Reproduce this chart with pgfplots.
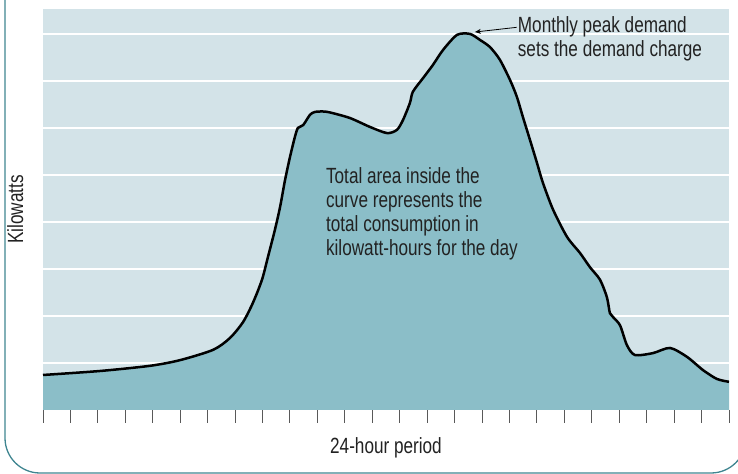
\documentclass[border=0pt]{standalone}
\usepackage{pgfplots}
\pgfplotsset{compat=1.18}
\usetikzlibrary{arrows.meta}
\usepackage{fontspec}
\setmainfont{Liberation Sans}[FakeStretch=0.78]
\definecolor{bgc}{HTML}{D3E3E8}
\definecolor{fillc}{HTML}{8BBEC8}
\definecolor{framec}{HTML}{3F8590}
\definecolor{txt}{HTML}{222222}
\pgfplotstableread{
x y
0 0.745
2.08 0.83
3.90 0.94
4.99 1.06
6.20 1.28
6.81 1.53
7.29 1.87
7.65 2.28
7.98 2.77
8.20 3.26
8.45 3.83
8.64 4.32
8.82 4.89
9.00 5.38
9.18 5.81
9.29 6.00
9.48 6.06
9.73 6.28
9.91 6.34
10.20 6.35
10.46 6.33
11.19 6.21
11.92 6.02
12.54 5.89
12.90 5.96
13.12 6.17
13.37 6.53
13.48 6.77
13.85 7.06
14.21 7.34
14.58 7.66
15.09 7.98
15.56 8.00
15.93 7.87
16.29 7.72
16.65 7.45
17.02 7.02
17.27 6.66
17.49 6.23
17.75 5.74
18.00 5.26
18.22 4.83
18.59 4.26
19.10 3.68
19.57 3.34
19.93 3.04
20.30 2.77
20.55 2.40
20.66 2.06
20.77 1.98
21.03 1.80
21.28 1.38
21.57 1.17
22.23 1.21
22.85 1.32
23.47 1.13
24.05 0.85
24.56 0.66
25 0.60
}\load
\begin{document}
\fontsize{22bp}{24bp}\selectfont
\begin{tikzpicture}
\useasboundingbox (0,0) rectangle (738bp,474bp);
% frame
\begin{scope}
\clip (0,0) rectangle (738bp,474bp);
\draw[framec, line width=1.3bp] (5bp,480bp) -- (5bp,36bp) arc[start angle=180, end angle=270, radius=35bp] -- (711bp,1bp) arc[start angle=270, end angle=360, radius=35bp] -- (746bp,480bp);
\end{scope}
\begin{axis}[
  at={(43bp,64bp)}, anchor=south west,
  scale only axis, width=686bp, height=401bp,
  xmin=0, xmax=25, ymin=0, ymax=8.53,
  axis background/.style={fill=bgc},
  axis line style={draw=none},
  xtick={0,...,25}, xticklabels={},
  ytick={1,...,8}, yticklabels={},
  ytick style={draw=none},
  xtick pos=bottom, xtick align=outside,
  major tick length=13bp,
  xtick style={draw=black!65, line width=1bp},
  ymajorgrids, grid style={white, line width=1.4bp},
  clip=false,
]
\addplot[fill=fillc, draw=none, smooth, tension=0.45] table {\load} \closedcycle;
\addplot[black, line width=2.5bp, smooth, tension=0.45] table {\load};
% annotation
\draw[-{Stealth[length=6bp,width=5bp]}, line width=0.8bp] (axis cs:17.26,8.14) -- (axis cs:15.74,8.04);
\node[anchor=base west, inner sep=0, text=txt] at (axis cs:17.30,8.02) {Monthly peak demand};
\node[anchor=base west, inner sep=0, text=txt] at (axis cs:17.30,7.51) {sets the demand charge};
\node[anchor=base west, inner sep=0, text=txt] at (axis cs:10.31,4.81) {Total area inside the};
\node[anchor=base west, inner sep=0, text=txt] at (axis cs:10.31,4.30) {curve represents the};
\node[anchor=base west, inner sep=0, text=txt] at (axis cs:10.31,3.79) {total consumption in};
\node[anchor=base west, inner sep=0, text=txt] at (axis cs:10.31,3.28) {kilowatt-hours for the day};
% axis labels
\node[anchor=base, inner sep=0, text=txt] at ([yshift=-43bp]rel axis cs:0.5,0) {24-hour period};
\node[anchor=base, rotate=90, inner sep=0, text=txt] at ([xshift=-20bp]rel axis cs:0,0.5) {Kilowatts};
\end{axis}
\end{tikzpicture}
\end{document}
